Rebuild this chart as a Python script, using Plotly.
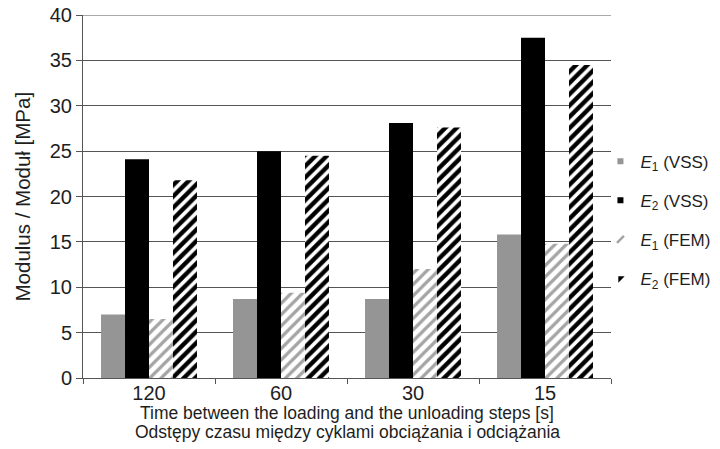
import plotly.graph_objects as go

categories = ["120", "60", "30", "15"]
e1_vss = [7.0, 8.7, 8.7, 15.8]
e2_vss = [24.1, 25.0, 28.1, 37.5]
e1_fem = [6.5, 9.4, 12.0, 14.8]
e2_fem = [21.8, 24.5, 27.6, 34.5]
y_ticks = [0, 5, 10, 15, 20, 25, 30, 35, 40]
series_names = ["<i>E</i><sub>1</sub> (VSS)", "<i>E</i><sub>2</sub> (VSS)",
                "<i>E</i><sub>1</sub> (FEM)", "<i>E</i><sub>2</sub> (FEM)"]

x_title_1 = "Time between the loading and the unloading steps [s]"
x_title_2 = "Odstępy czasu między cyklami obciążania i odciążania"
y_title = "Modulus / Moduł [MPa]"

FONT = "Liberation Sans, Arial, sans-serif"
TXT = "#1e1e1e"
AX = "#555555"

# page body has an 8px margin: size the figure so the plot lands where the reference has it
W, H = 712, 441

fig = go.Figure()
fig.add_trace(go.Bar(x=categories, y=e1_vss, name=series_names[0], showlegend=False,
                     marker=dict(color="#959595", line=dict(width=0))))
fig.add_trace(go.Bar(x=categories, y=e2_vss, name=series_names[1], showlegend=False,
                     marker=dict(color="#000000", line=dict(width=0))))
fig.add_trace(go.Bar(x=categories, y=e1_fem, name=series_names[2], showlegend=False,
                     marker=dict(color="white", line=dict(width=0),
                                 pattern=dict(shape="/", fgcolor="#a4a4a4", bgcolor="white",
                                              fgopacity=1, size=8, solidity=0.4))))
fig.add_trace(go.Bar(x=categories, y=e2_fem, name=series_names[3], showlegend=False,
                     marker=dict(color="white", line=dict(width=0),
                                 pattern=dict(shape="/", fgcolor="#000000", bgcolor="white",
                                              fgopacity=1, size=8, solidity=0.55))))

# legend entries with small symbols like the reference
legend_styles = [
    dict(symbol="square", color="#959595", size=6),
    dict(symbol="square", color="#000000", size=6),
    dict(symbol="line-ne", color="#a4a4a4", size=7, line=dict(color="#a4a4a4", width=2.5)),
    dict(symbol="triangle-nw", color="#000000", size=7),
]
for i, (nm, st) in enumerate(zip(series_names, legend_styles)):
    fig.add_trace(go.Scatter(x=[None], y=[None], mode="markers", name=nm,
                             marker=st, legendgroup=str(i), showlegend=True))

fig.update_layout(
    width=W, height=H,
    margin=dict(l=75, r=109, t=7, b=71, autoexpand=False),
    paper_bgcolor="white", plot_bgcolor="white",
    barmode="group", bargap=0.273, bargroupgap=0,
    font=dict(family=FONT, color=TXT),
    showlegend=True,
    legend=dict(x=0.98, xanchor="left", y=0.435, yanchor="middle",
                font=dict(size=17, family=FONT, color=TXT),
                tracegroupgap=14, itemwidth=30, bgcolor="rgba(0,0,0,0)"),
    xaxis=dict(
        type="category", showgrid=False, showline=True, linecolor=AX, linewidth=1,
        ticks="outside", tickson="boundaries", ticklen=5, tickcolor=AX,
        tickfont=dict(size=20, family=FONT, color=TXT), automargin=False,
        ticklabelstandoff=-3,
    ),
    yaxis=dict(
        range=[0, 40], tickvals=y_ticks, showgrid=True, gridcolor=AX, gridwidth=1,
        showline=True, linecolor=AX, linewidth=1,
        ticks="outside", ticklen=6, tickcolor=AX,
        tickfont=dict(size=20, family=FONT, color=TXT), automargin=False,
        ticklabeloverflow="allow", zeroline=False,
    ),
    shapes=[
        # top gridline at the last tick (Plotly omits the one on the range edge)
        dict(type="line", xref="paper", yref="y", x0=0, x1=1, y0=y_ticks[-1], y1=y_ticks[-1],
             line=dict(color=AX, width=1), layer="below"),
    ],
    annotations=[
        dict(text=x_title_1, xref="paper", yref="paper", x=0.5, y=0, yshift=-35,
             xanchor="center", yanchor="middle", showarrow=False,
             font=dict(size=17.5, family=FONT, color=TXT)),
        dict(text=x_title_2, xref="paper", yref="paper", x=0.5, y=0, yshift=-54,
             xanchor="center", yanchor="middle", showarrow=False,
             font=dict(size=17.5, family=FONT, color=TXT)),
        dict(text=y_title, xref="paper", yref="paper", x=0, xshift=-61, y=0.5,
             xanchor="center", yanchor="middle", showarrow=False, textangle=-90,
             font=dict(size=20.5, family=FONT, color=TXT)),
    ],
)

fig.write_html("out.html")
